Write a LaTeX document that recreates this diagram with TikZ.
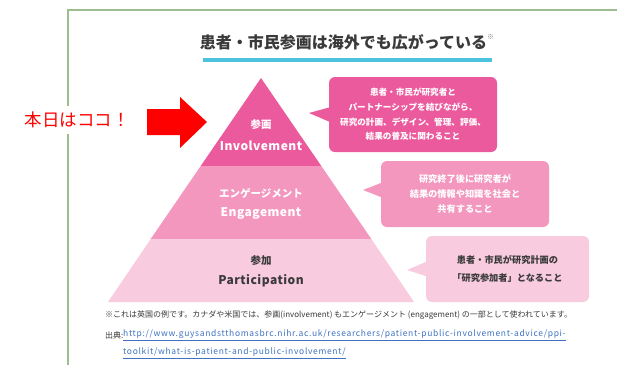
\documentclass[tikz,border=0pt]{standalone}
\usepackage{fontspec}
\setmainfont{Noto Sans CJK JP}
\definecolor{inv}{HTML}{EC5A9E}
\definecolor{eng}{HTML}{F397BF}
\definecolor{par}{HTML}{F8CBDF}
\definecolor{framec}{HTML}{9CBE8F}
\definecolor{cyanl}{HTML}{4CC3DE}
\definecolor{dark}{HTML}{3A3A3A}
\definecolor{linkc}{HTML}{3F72C0}
\tikzset{
  callout/.style={rounded corners=6pt, inner sep=0pt, align=center, draw=none},
  tierjp/.style={font=\fontsize{10.5}{12}\selectfont\bfseries},
  tieren/.style={font=\fontsize{12}{14}\selectfont\bfseries\addfontfeatures{LetterSpace=4}},
  foot/.style={anchor=west, inner sep=0pt, text=dark, font=\fontsize{8}{10}\selectfont},
  urlfont/.style={anchor=west, inner sep=0pt, text=linkc, font=\fontsize{8.5}{10}\selectfont\addfontfeatures{LetterSpace=8}},
}
\begin{document}
\begin{tikzpicture}[x=1pt, y=-1pt]
\useasboundingbox (0,0) rectangle (617,365);
% frame
\coordinate (fbl) at (68,365);
\coordinate (ftl) at (68,10);
\coordinate (ftr) at (617,10);
\draw[framec, line width=1.2pt] (fbl) -- (ftl) -- (ftr);
% title
\node[text=dark, font=\fontsize{16}{18}\selectfont\bfseries] (title) at (347,42)
  {患者・市民参画は海外でも広がっている\raisebox{0.55em}{\fontsize{7}{8}\selectfont\color{gray}※}};
\coordinate (ul1) at (203,60);
\coordinate (ul2) at (492,60);
\draw[cyanl, line width=3.2pt] (ul1) -- (ul2);
% pyramid
\coordinate (apex) at (261,78);
\coordinate (a1l) at (200.7,166);
\coordinate (a1r) at (321.3,166);
\coordinate (a2l) at (150.7,239);
\coordinate (a2r) at (371.3,239);
\coordinate (a3l) at (108,302);
\coordinate (a3r) at (414,302);
\fill[inv] (apex) -- (a1r) -- (a1l) -- cycle;
\fill[eng] (a1l) -- (a1r) -- (a2r) -- (a2l) -- cycle;
\fill[par] (a2l) -- (a2r) -- (a3r) -- (a3l) -- cycle;
\node[tierjp, text=white] (t1a) at (261,125) {参画};
\node[tieren, text=white] (t1b) at (261,146) {Involvement};
\node[tierjp, text=white] (t2a) at (261,193) {エンゲージメント};
\node[tieren, text=white] (t2b) at (261,213) {Engagement};
\node[tierjp, text=dark] (t3a) at (261,261) {参加};
\node[tieren, text=dark] (t3b) at (261,281) {Participation};
% callouts
\node[callout, fill=inv, text=white, minimum width=168pt, minimum height=75pt,
  font=\fontsize{8.6}{14.7}\selectfont\bfseries] (c1) at (413,114.5)
  {患者・市民が研究者と\\パートナーシップを結びながら、\\研究の計画、デザイン、管理、評価、\\結果の普及に関わること};
\coordinate (p1) at (309,113);
\fill[inv] ([yshift=7pt]c1.west) -- (p1) -- ([yshift=-7pt]c1.west) -- cycle;
\node[callout, fill=eng, text=white, minimum width=168pt, minimum height=66pt,
  font=\fontsize{9.2}{15}\selectfont\bfseries] (c2) at (465,194)
  {研究終了後に研究者が\\結果の情報や知識を社会と\\共有すること};
\coordinate (p2) at (363,190);
\fill[eng] ([yshift=11pt]c2.west) -- (p2) -- ([yshift=-3pt]c2.west) -- cycle;
\node[callout, fill=par, text=dark, minimum width=163pt, minimum height=66pt,
  font=\fontsize{9.2}{18}\selectfont\bfseries] (c3) at (507.5,269)
  {患者・市民が研究計画の\\「研究参加者」となること};
\coordinate (p3) at (407,270);
\fill[par] ([yshift=7pt]c3.west) -- (p3) -- ([yshift=-7pt]c3.west) -- cycle;
% red arrow and label
\fill[red] (147,109) -- (180,109) -- (180,97) -- (207,122) -- (180,148) -- (180,135) -- (147,135) -- cycle;
\node[fill=white, text=red, inner xsep=2pt, inner ysep=6pt, font=\fontsize{17.5}{20}\selectfont] (here) at (77,120) {本日はココ！};
% footnotes
\node[foot] (n1) at (105,315) {※これは英国の例です。カナダや米国では、参画(involvement) もエンゲージメント (engagement) の一部として使われています。};
\node[foot] (n2) at (105,335) {出典:};
\node[urlfont] (u1) at (123,335) {\underline{http://www.guysandstthomasbrc.nihr.ac.uk/researchers/patient-public-involvement-advice/ppi-}};
\node[urlfont] (u2) at (123,353) {\underline{toolkit/what-is-patient-and-public-involvement/}};
\end{tikzpicture}
\end{document}
